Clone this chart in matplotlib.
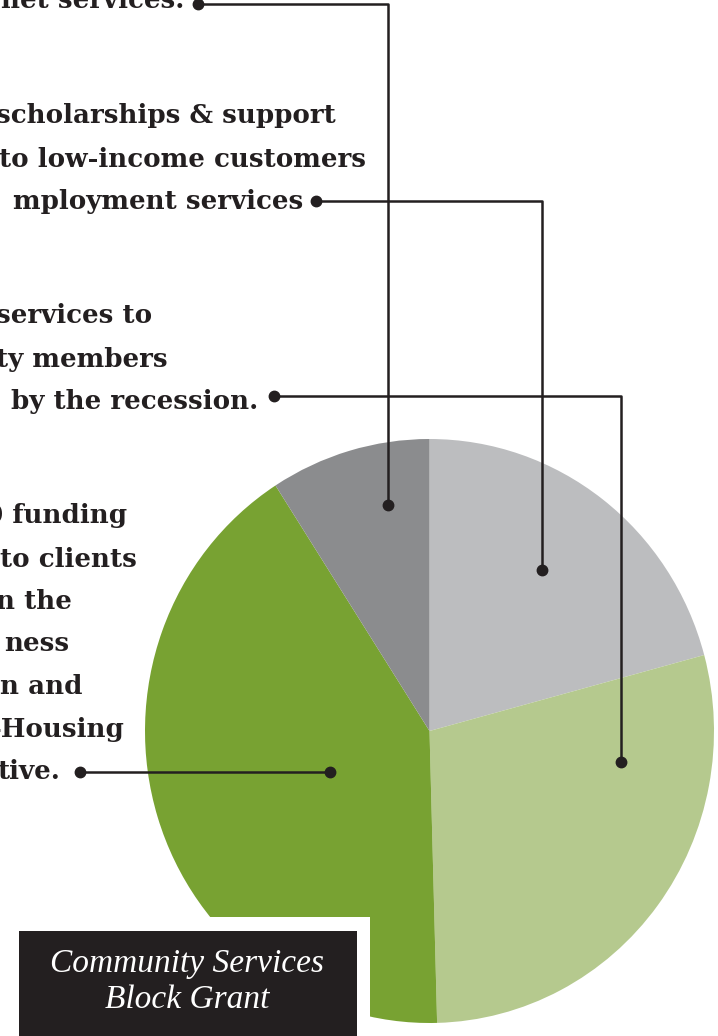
import matplotlib.pyplot as plt
from matplotlib.patches import Rectangle

# Slice shares (percent), clockwise from 12 o'clock
segments = ["Employment services", "Recession services", "Housing initiative", "Safety net services"]
shares = [20.8, 28.75, 41.3, 9.1]
colors = ["#bcbdbf", "#b5c98e", "#78a232", "#8b8c8e"]

# Left-hand captions (left side of the page is cropped off)
caption_lines = [
    ["net services."],
    ["scholarships & support", "to low-income customers", "mployment services"],
    ["services to", "ty members", "by the recession."],
    ["0 funding", "to clients", "n the", "ness", "n and", "-Housing", "tive."],
]
title = "Community Services\nBlock Grant"

ink = "#231f20"

W, H = 718, 1036
fig = plt.figure(figsize=(W / 100, H / 100), dpi=100)

# pie axes, placed in pixels (slightly taller than wide, as in the original)
px0, px1, py0, py1 = 145, 714, 439, 1023
ax = fig.add_axes([px0 / W, 1 - py1 / H, (px1 - px0) / W, (py1 - py0) / H])
ax.pie(shares, colors=colors, startangle=90, counterclock=False,
       wedgeprops=dict(linewidth=0))
ax.set_aspect("auto")
ax.set_xlim(-1, 1)
ax.set_ylim(-1, 1)
ax.axis("off")

# overlay axes in pixel coordinates
ov = fig.add_axes([0, 0, 1, 1])
ov.set_xlim(0, W)
ov.set_ylim(H, 0)
ov.axis("off")
ov.patch.set_alpha(0)

txt = dict(family="DejaVu Serif", fontweight="bold", fontsize=18.8, color=ink, ha="right")

# (right end, baseline) of each caption line
caption_pos = [
    [(184, 8)],
    [(336, 123), (366, 167), (303, 209)],
    [(152, 323), (168, 367), (258, 409)],
    [(127, 523), (137, 567), (72, 609), (69, 651), (82, 694), (125, 737), (60, 779)],
]
for lines, pos in zip(caption_lines, caption_pos):
    for s, (x, y) in zip(lines, pos):
        ov.text(x, y, s, va="baseline", **txt)

# leader lines: label dot -> elbow -> slice dot
leaders = [
    [(198, 4), (388, 4), (388, 505)],
    [(316, 201), (542, 201), (542, 570)],
    [(274, 396), (621, 396), (621, 762)],
    [(80, 772), (330, 772)],
]
for pts in leaders:
    xs = [p[0] for p in pts]
    ys = [p[1] for p in pts]
    ov.plot(xs, ys, color=ink, lw=1.8, solid_capstyle="butt")
    ov.plot([xs[0], xs[-1]], [ys[0], ys[-1]], "o", color=ink, ms=7.5)

# title block
ov.add_patch(Rectangle((0, 917), 370, H - 917, facecolor="white", edgecolor="none"))
ov.add_patch(Rectangle((19, 931), 338, H - 931, facecolor=ink, edgecolor="none"))
ov.text(187, 972, "Community Services", family="Liberation Serif", style="italic",
        fontsize=24, color="white", ha="center", va="baseline")
ov.text(187, 1008, "Block Grant", family="Liberation Serif", style="italic",
        fontsize=24, color="white", ha="center", va="baseline")

fig.savefig("out.png", dpi=100)
